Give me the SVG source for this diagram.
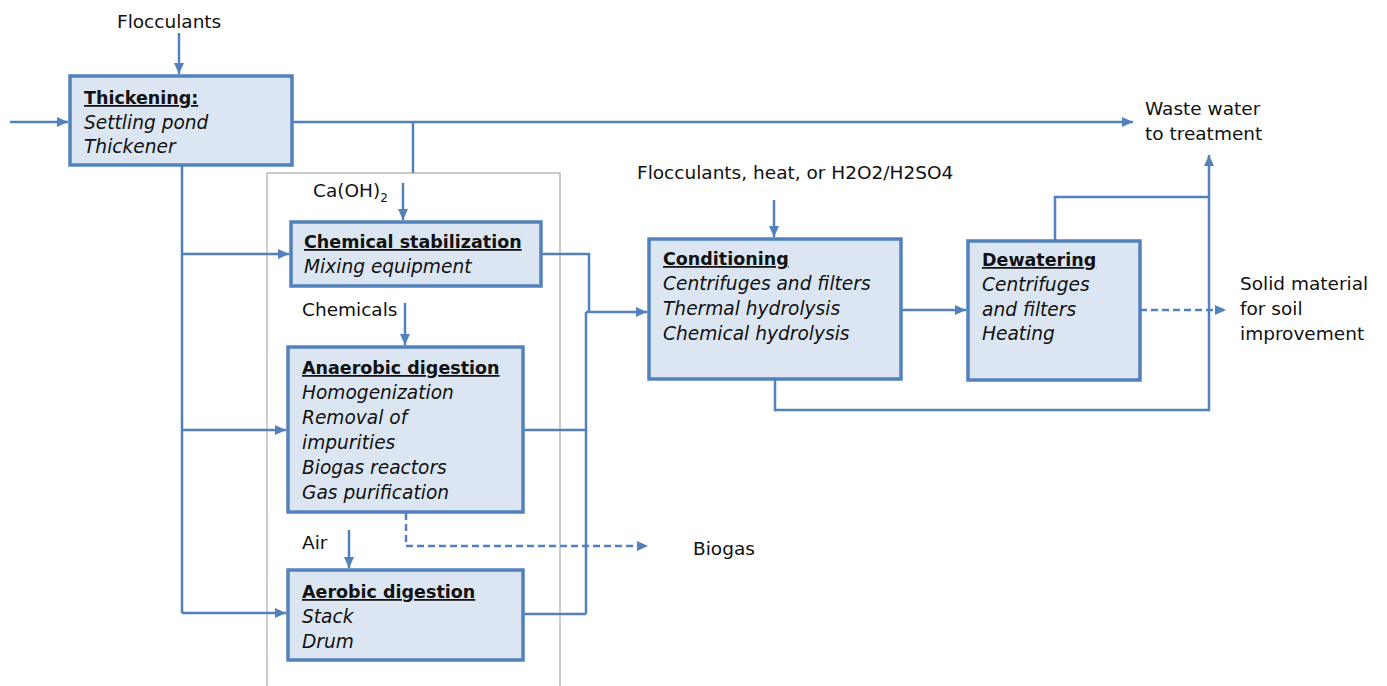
<svg xmlns="http://www.w3.org/2000/svg" width="1387" height="686" viewBox="0 0 1387 686">
<style>
.box{fill:#dce6f2;stroke:#5281bb;stroke-width:3.5}
.ln{fill:none;stroke:#5281bb;stroke-width:2.5}
.dash{fill:none;stroke:#5281bb;stroke-width:2.5;stroke-dasharray:7 4}
.t{font-family:"DejaVu Sans",sans-serif;font-size:18.5px;fill:#111}
.h{font-weight:bold;text-decoration:underline;font-size:17.5px}
.i{font-style:italic;font-size:18.6px}
</style>
<defs>
<marker id="ah" markerUnits="userSpaceOnUse" markerWidth="12" markerHeight="10" refX="11" refY="5" orient="auto">
<path d="M0,0 L11,5 L0,10 Z" fill="#5281bb"/>
</marker>
</defs>
<rect x="0" y="0" width="1387" height="686" fill="#fff"/>
<rect id="group-frame" x="267" y="173" width="293" height="520" fill="none" stroke="#999" stroke-width="1"/>
<g id="connectors">
<path class="ln" d="M10,122 H68" marker-end="url(#ah)"/>
<path class="ln" d="M179,33 V74" marker-end="url(#ah)"/>
<path class="ln" d="M293,122 H1133" marker-end="url(#ah)"/>
<path class="ln" d="M413,122 V173"/>
<path class="ln" d="M403,183 V220" marker-end="url(#ah)"/>
<path class="ln" d="M182,165 V613"/>
<path class="ln" d="M182,254 H289" marker-end="url(#ah)"/>
<path class="ln" d="M182,430 H286" marker-end="url(#ah)"/>
<path class="ln" d="M182,613 H286" marker-end="url(#ah)"/>
<path class="ln" d="M405,303 V345" marker-end="url(#ah)"/>
<path class="ln" d="M349,530 V568" marker-end="url(#ah)"/>
<path class="ln" d="M541,254 H589 V312"/>
<path class="ln" d="M586,312 H647" stroke-width="3.5" marker-end="url(#ah)"/>
<path class="ln" d="M586,312 V614"/>
<path class="ln" d="M523,430 H586"/>
<path class="ln" d="M523,614 H586"/>
<path class="dash" d="M406,513 V546 H648" marker-end="url(#ah)"/>
<path class="ln" d="M774,200 V237" marker-end="url(#ah)"/>
<path class="ln" d="M901,310 H966" marker-end="url(#ah)"/>
<path class="ln" d="M775,380 V410 H1209 V155" marker-end="url(#ah)"/>
<path class="ln" d="M1055,241 V197 H1209"/>
<path class="dash" d="M1140,310 H1226" marker-end="url(#ah)"/>
</g>
<g id="thickening">
<rect class="box" x="70" y="76" width="222" height="89"/>
<text class="t h" x="84" y="104">Thickening:</text>
<text class="t i" x="84" y="129">Settling pond</text>
<text class="t i" x="84" y="153">Thickener</text>
</g>
<g id="chemical-stabilization">
<rect class="box" x="291" y="222" width="250" height="64"/>
<text class="t h" x="304" y="248">Chemical stabilization</text>
<text class="t i" x="304" y="273">Mixing equipment</text>
</g>
<g id="anaerobic-digestion">
<rect class="box" x="288" y="347" width="235" height="165"/>
<text class="t h" x="302" y="374">Anaerobic digestion</text>
<text class="t i" x="302" y="399">Homogenization</text>
<text class="t i" x="302" y="424">Removal of</text>
<text class="t i" x="302" y="449">impurities</text>
<text class="t i" x="302" y="474">Biogas reactors</text>
<text class="t i" x="302" y="499">Gas purification</text>
</g>
<g id="aerobic-digestion">
<rect class="box" x="288" y="570" width="235" height="90"/>
<text class="t h" x="302" y="598">Aerobic digestion</text>
<text class="t i" x="302" y="623">Stack</text>
<text class="t i" x="302" y="648">Drum</text>
</g>
<g id="conditioning">
<rect class="box" x="649" y="239" width="252" height="140"/>
<text class="t h" x="663" y="265">Conditioning</text>
<text class="t i" x="663" y="290">Centrifuges and filters</text>
<text class="t i" x="663" y="315">Thermal hydrolysis</text>
<text class="t i" x="663" y="340">Chemical hydrolysis</text>
</g>
<g id="dewatering">
<rect class="box" x="968" y="241" width="172" height="139"/>
<text class="t h" x="982" y="266">Dewatering</text>
<text class="t i" x="982" y="291">Centrifuges</text>
<text class="t i" x="982" y="316">and filters</text>
<text class="t i" x="982" y="340">Heating</text>
</g>
<g id="labels">
<text class="t" x="117" y="28">Flocculants</text>
<text class="t" x="313" y="197">Ca(OH)<tspan dy="5" font-size="12">2</tspan></text>
<text class="t" x="302" y="316">Chemicals</text>
<text class="t" x="302" y="549">Air</text>
<text class="t" x="693" y="555">Biogas</text>
<text class="t" x="637" y="179">Flocculants, heat, or H2O2/H2SO4</text>
<text class="t" x="1145" y="115">Waste water</text>
<text class="t" x="1145" y="140">to treatment</text>
<text class="t" x="1240" y="290">Solid material</text>
<text class="t" x="1240" y="315">for soil</text>
<text class="t" x="1240" y="340">improvement</text>
</g>
</svg>
